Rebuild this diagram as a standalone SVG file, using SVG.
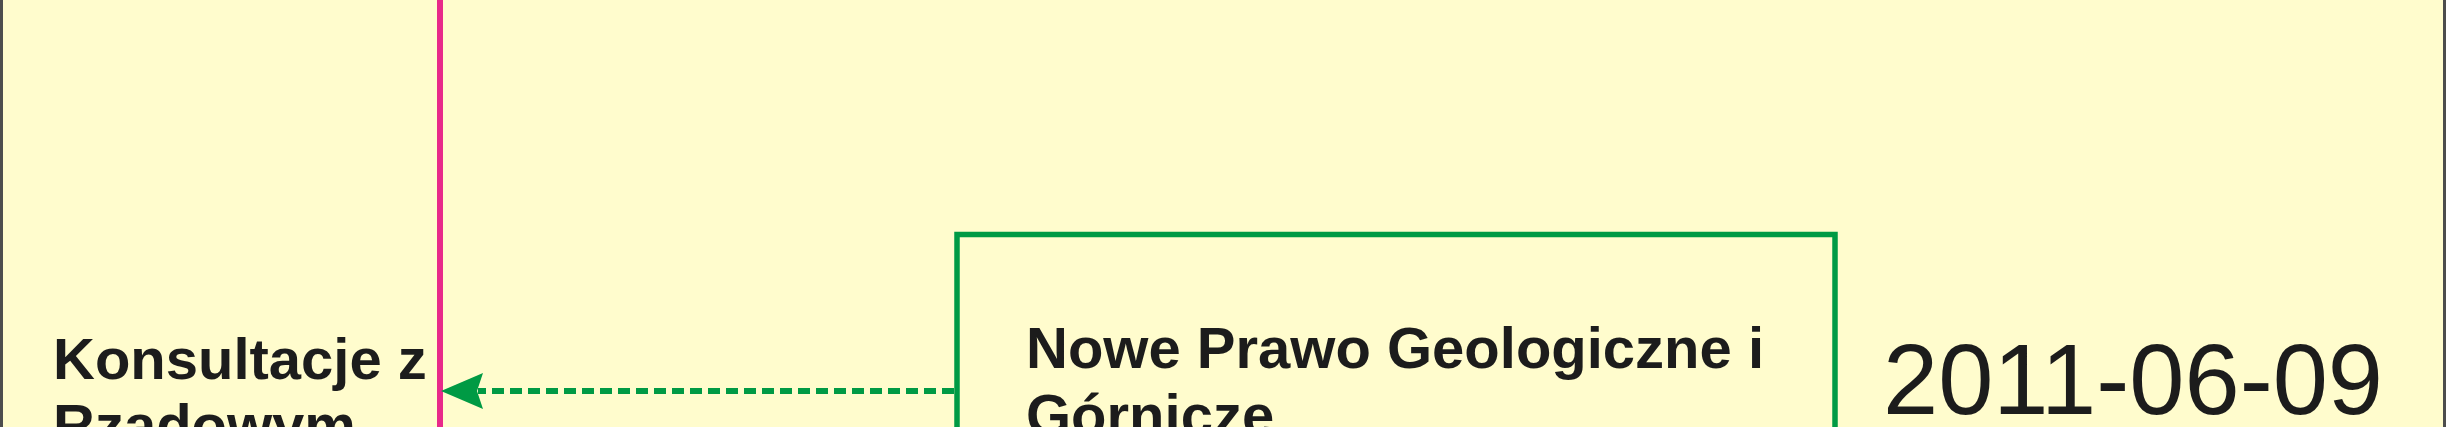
<svg xmlns="http://www.w3.org/2000/svg" width="2446" height="427" viewBox="0 0 2446 427">
<style>
.lbl{font-family:"Liberation Sans",Arial,sans-serif;font-weight:bold;font-size:58px;fill:#1c1c1c}
.date{font-family:"Liberation Sans",Arial,sans-serif;font-size:101px;fill:#1c1c1c}
.conn{fill:none;stroke:#009a44;stroke-width:6;stroke-dasharray:12 6}
</style>
<defs>
<marker id="ah" markerUnits="userSpaceOnUse" markerWidth="44" markerHeight="38" viewBox="0 0 44 38" refX="5" refY="18" orient="auto">
<path d="M0,0 L42,18 L0,36 L6,18 Z" fill="#009a44"/>
</marker>
</defs>
<rect x="1.5" y="-10" width="2443" height="450" fill="#fffccd" stroke="#4d4d4d" stroke-width="3"/>
<g id="lifeline">
<line x1="440" y1="0" x2="440" y2="427" stroke="#e8298a" stroke-width="6"/>
</g>
<g id="konsultacje">
<text class="lbl" x="53" y="379">Konsultacje z</text>
<text class="lbl" x="53" y="445">Rządowym</text>
</g>
<g id="nowe-prawo">
<rect x="957" y="234.5" width="878" height="220" fill="none" stroke="#009a44" stroke-width="5.5"/>
<text class="lbl" x="1026" y="368">Nowe Prawo Geologiczne i</text>
<text class="lbl" x="1026" y="435">Górnicze</text>
</g>
<g id="date">
<text class="date" x="1883" y="414" textLength="500" lengthAdjust="spacingAndGlyphs">2011-06-09</text>
</g>
<g id="connectors">
<path class="conn" d="M954,391 L478,391" marker-end="url(#ah)"/>
</g>
</svg>
